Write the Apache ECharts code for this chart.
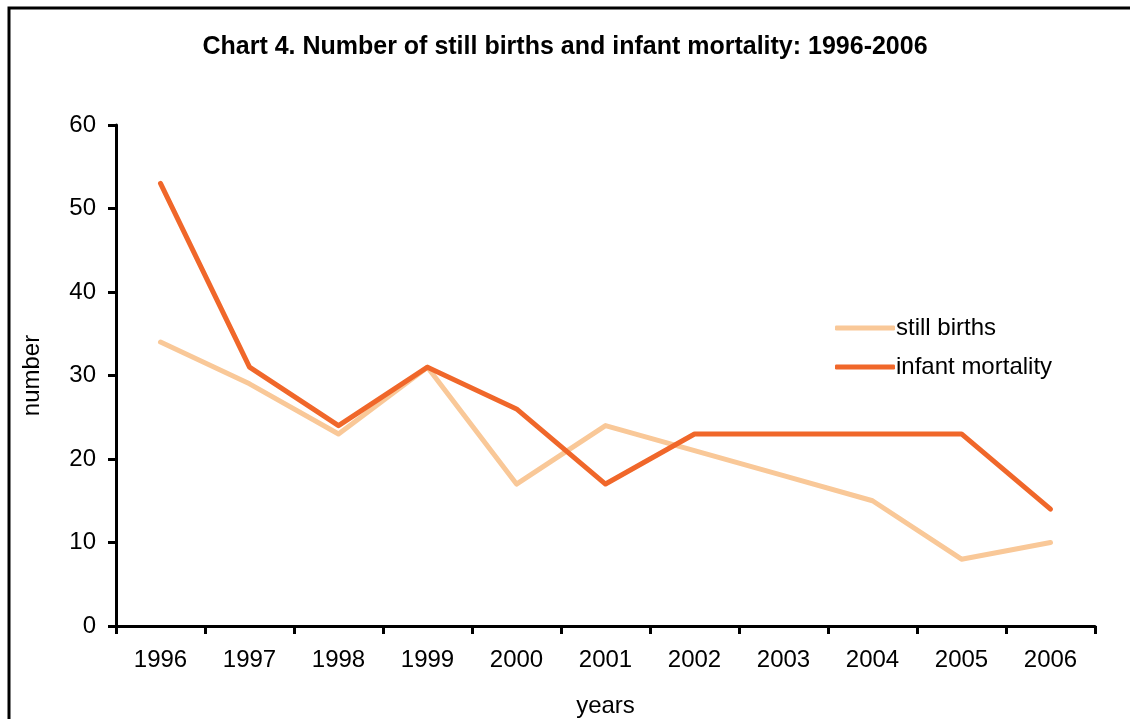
<!DOCTYPE html>
<html>
<head>
<meta charset="utf-8">
<script src="https://cdn.jsdelivr.net/npm/echarts@6/dist/echarts.min.js"></script>
<style>
	html, body { margin: 0; padding: 0; background: #fff; }
	#chart { width: 1130px; height: 719px; }
</style>
</head>
<body>
<div id="chart"></div>
<script>
var years = [ '1996', '1997', '1998', '1999', '2000', '2001', '2002', '2003', '2004', '2005', '2006' ];
var stillBirths = [ 34, 29, 23, 31, 17, 24, 21, 18, 15, 8, 10 ];
var infantMortality = [ 53, 31, 24, 31, 26, 17, 23, 23, 23, 23, 14 ];
var yTicks = [ 0, 10, 20, 30, 40, 50, 60 ];

var font = '"Liberation Sans", Arial, Helvetica, sans-serif';

var option = {
	animation : false,
	backgroundColor : '#fff',
	textStyle : {
		fontFamily : font
	},
	title : {
		text : 'Chart 4. Number of still births and infant mortality: 1996-2006',
		left : 'center',
		top : 30,
		textStyle : {
			fontSize : 25,
			fontWeight : 'bold',
			color : '#000',
			fontFamily : font
		}
	},
	graphic : [ {
		type : 'rect',
		shape : { x : 9, y : 8, width : 1200, height : 800 },
		style : { fill : 'none', stroke : '#000', lineWidth : 3 },
		silent : true
	} ],
	legend : {
		orient : 'vertical',
		left : 830,
		top : 311,
		itemWidth : 60,
		itemHeight : 5,
		itemGap : 15,
		icon : 'roundRect',
		textStyle : {
			fontSize : 24,
			color : '#000',
			padding : [ 0, 0, 0, -4 ]
		},
		data : [ 'still births', 'infant mortality' ]
	},
	grid : {
		left : 116,
		right : 35,
		top : 125,
		bottom : 93,
		outerBoundsMode : 'none'
	},
	xAxis : {
		type : 'category',
		data : years,
		boundaryGap : true,
		name : 'years',
		nameLocation : 'middle',
		nameGap : 68,
		nameTextStyle : {
			fontSize : 24,
			color : '#000'
		},
		axisLine : {
			lineStyle : { color : '#000', width : 3 }
		},
		axisTick : {
			show : true,
			length : 8,
			lineStyle : { color : '#000', width : 3 }
		},
		axisLabel : {
			fontSize : 24,
			color : '#000',
			margin : 22
		},
		splitLine : { show : false }
	},
	yAxis : {
		type : 'value',
		min : yTicks[0],
		max : yTicks[yTicks.length - 1],
		interval : 10,
		name : 'number',
		nameLocation : 'middle',
		nameGap : 72,
		nameRotate : 90,
		nameTextStyle : {
			fontSize : 24,
			color : '#000'
		},
		axisLine : {
			show : true,
			lineStyle : { color : '#000', width : 3 }
		},
		axisTick : {
			show : true,
			length : 8,
			lineStyle : { color : '#000', width : 3 }
		},
		axisLabel : {
			fontSize : 24,
			color : '#000',
			margin : 20
		},
		splitLine : { show : false }
	},
	series : [ {
		name : 'still births',
		type : 'line',
		data : stillBirths,
		symbol : 'none',
		color : '#F9C898',
		lineStyle : { width : 5, color : '#F9C898', cap : 'round', join : 'round' }
	}, {
		name : 'infant mortality',
		type : 'line',
		data : infantMortality,
		symbol : 'none',
		color : '#F0672A',
		lineStyle : { width : 5, color : '#F0672A', cap : 'round', join : 'round' }
	} ]
};

var chart = echarts.init(document.getElementById('chart'));
chart.setOption(option, true);
</script>
</body>
</html>
